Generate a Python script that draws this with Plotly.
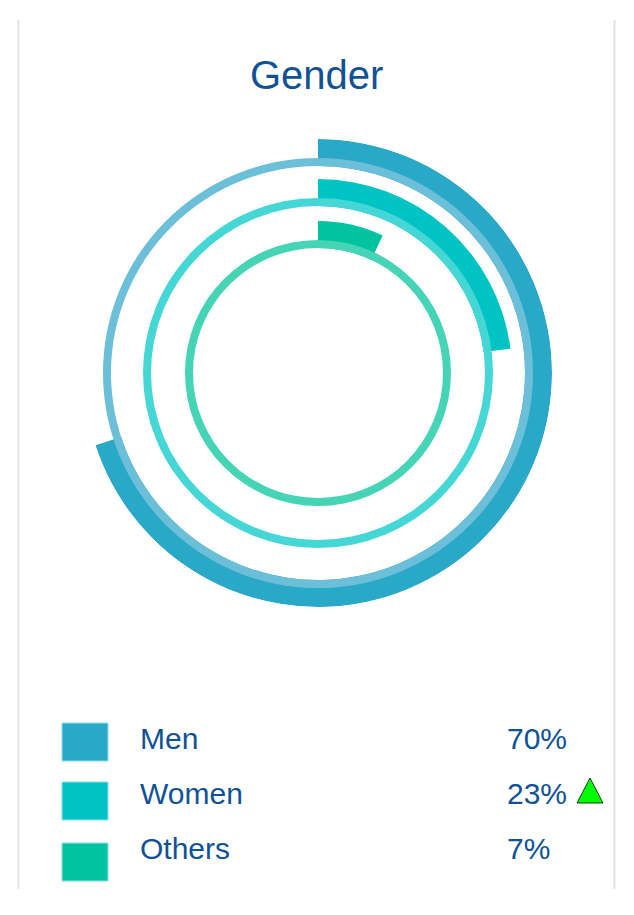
import plotly.graph_objects as go

W, H = 634, 915

# ---- data ----
categories = ["Men", "Women", "Others"]
values = [70, 23, 7]
value_labels = ["70%", "23%", "7%"]
trend_up = [False, True, False]
title_text = "Gender"

# ---- styles ----
arc_colors = ["#29a9c7", "#00c4c4", "#00c4a0"]
track_colors = ["#6cbfd8", "#45d6d6", "#45d4b6"]
ring_base = [207, 167, 125]   # inner radius (px) of each ring
arc_thick = 27
track_thick = 8
R = 234
cx, cy = 318, 373
text_color = "#0f5296"
FONT = "Liberation Sans, Arial, sans-serif"

def px(x):
    return x / W

def py(y):
    return 1 - y / H

fig = go.Figure()
for i, (cat, v) in enumerate(zip(categories, values)):
    fig.add_trace(go.Barpolar(
        r=[arc_thick], base=[ring_base[i]],
        theta=[v * 360 / 100 / 2], width=[v * 360 / 100],
        marker=dict(color=arc_colors[i], line=dict(width=0)),
        name=cat, hoverinfo="skip", showlegend=False))
    fig.add_trace(go.Barpolar(
        r=[track_thick], base=[ring_base[i]],
        theta=[180], width=[360],
        marker=dict(color=track_colors[i], line=dict(width=0)),
        hoverinfo="skip", showlegend=False))

fig.update_layout(
    width=W, height=H,
    margin=dict(l=0, r=0, t=0, b=0),
    paper_bgcolor="white", plot_bgcolor="white",
    polar=dict(
        domain=dict(x=[px(cx - R), px(cx + R)], y=[py(cy + R), py(cy - R)]),
        bgcolor="rgba(0,0,0,0)",
        hole=0,
        radialaxis=dict(range=[0, R], visible=False, showgrid=False),
        angularaxis=dict(rotation=90, direction="clockwise", visible=False,
                         showgrid=False, showline=False, ticks=""),
        barmode="overlay",
    ),
)

shapes = []
# card borders
for x in (18.5, 614.5):
    shapes.append(dict(type="line", xref="paper", yref="paper",
                       x0=px(x), x1=px(x), y0=py(20), y1=py(889),
                       line=dict(color="#e3e3e3", width=2)))

annotations = [dict(text=title_text, x=px(316), y=py(75), xref="paper", yref="paper",
                    showarrow=False, xanchor="center", yanchor="middle",
                    font=dict(family=FONT, size=40, color=text_color))]

sq_top = [723, 782, 843]
text_y = [738, 793, 848]
for i, cat in enumerate(categories):
    shapes.append(dict(type="rect", xref="paper", yref="paper",
                       x0=px(62), x1=px(108), y0=py(sq_top[i] + 38), y1=py(sq_top[i]),
                       fillcolor=arc_colors[i], line=dict(width=1, color="#8fdff0")))
    annotations.append(dict(text=cat, x=px(138), y=py(text_y[i]), xref="paper", yref="paper",
                            showarrow=False, xanchor="left", yanchor="middle",
                            font=dict(family=FONT, size=30, color=text_color)))
    annotations.append(dict(text=value_labels[i], x=px(505), y=py(text_y[i]), xref="paper", yref="paper",
                            showarrow=False, xanchor="left", yanchor="middle",
                            font=dict(family=FONT, size=30, color=text_color)))
    if trend_up[i]:
        path = "M {} {} L {} {} L {} {} Z".format(px(577), py(803), px(603), py(803), px(590), py(778))
        shapes.append(dict(type="path", xref="paper", yref="paper", path=path,
                           fillcolor="#00ff00", line=dict(color="#1a3a1a", width=1)))

fig.update_layout(shapes=shapes, annotations=annotations)
fig.write_html("out.html", config={"displayModeBar": False},
               post_script="document.body.style.margin='0';document.body.style.overflow='hidden';")
